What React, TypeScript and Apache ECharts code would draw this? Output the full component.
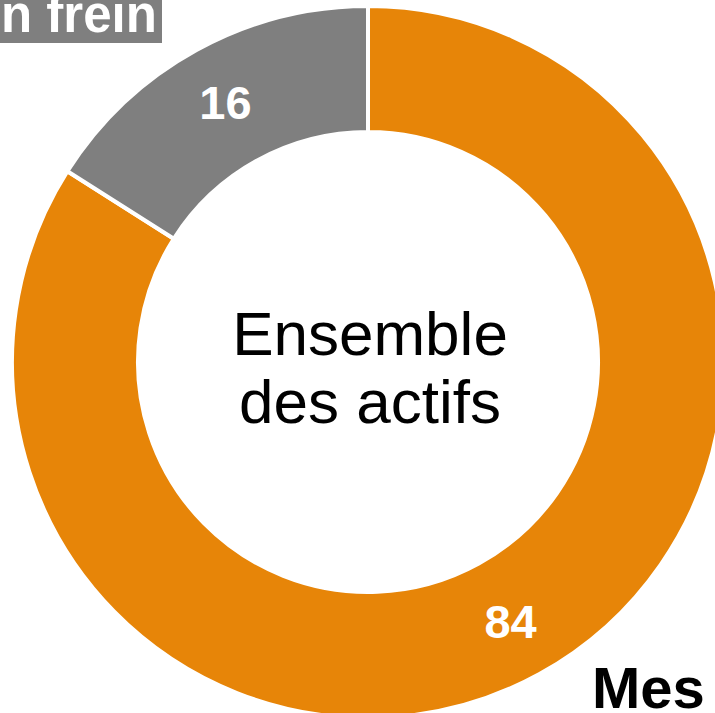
import React, { useEffect, useRef } from "react";
import * as echarts from "echarts";

const categories = ["Mes", "Sans frein"];
const values = [84, 16];
const colors = ["#E78508", "#7F7F7F"];
const centerLines = ["Ensemble", "des actifs"];
const topLeftLabel = "n frein";
const bottomRightLabel = "Mes";

const FONT = "'Liberation Sans', Arial, sans-serif";

export default function App() {
  const ref = useRef<HTMLDivElement>(null);
  useEffect(() => {
    if (!ref.current) return;
    const chart = echarts.init(ref.current, undefined, { renderer: "svg" });
    chart.setOption({
      animation: false,
      backgroundColor: "#ffffff",
      series: [
        {
          type: "pie",
          center: [368, 362],
          radius: [230, 356],
          startAngle: 90,
          clockwise: true,
          silent: true,
          itemStyle: { borderColor: "#ffffff", borderWidth: 4 },
          label: {
            show: true,
            position: "inside",
            formatter: "{c}",
            color: "#ffffff",
            fontSize: 47,
            fontWeight: "bold",
            fontFamily: FONT,
          },
          labelLine: { show: false },
          data: categories.map((c, i) => ({
            name: c,
            value: values[i],
            itemStyle: { color: colors[i] },
          })),
        },
      ],
      graphic: [
        {
          type: "text",
          x: 370,
          y: 367,
          style: {
            text: centerLines.join("\n"),
            fontSize: 62,
            lineHeight: 68,
            fontFamily: FONT,
            fill: "#000000",
            align: "center",
            verticalAlign: "middle",
          },
        },
        {
          type: "rect",
          shape: { x: 0, y: 0, width: 162, height: 43 },
          style: { fill: "#7F7F7F" },
        },
        {
          type: "text",
          x: 1,
          y: 14,
          style: {
            text: topLeftLabel,
            fontSize: 51,
            fontWeight: "bold",
            fontFamily: FONT,
            fill: "#ffffff",
            align: "left",
            verticalAlign: "middle",
          },
        },
        {
          type: "text",
          x: 592,
          y: 687,
          style: {
            text: bottomRightLabel,
            fontSize: 58,
            fontWeight: "bold",
            fontFamily: FONT,
            fill: "#000000",
            align: "left",
            verticalAlign: "middle",
          },
        },
      ],
    });
    return () => chart.dispose();
  }, []);
  return (
    <div
      ref={ref}
      style={{ position: "fixed", left: 0, top: 0, width: 715, height: 713 }}
    />
  );
}
